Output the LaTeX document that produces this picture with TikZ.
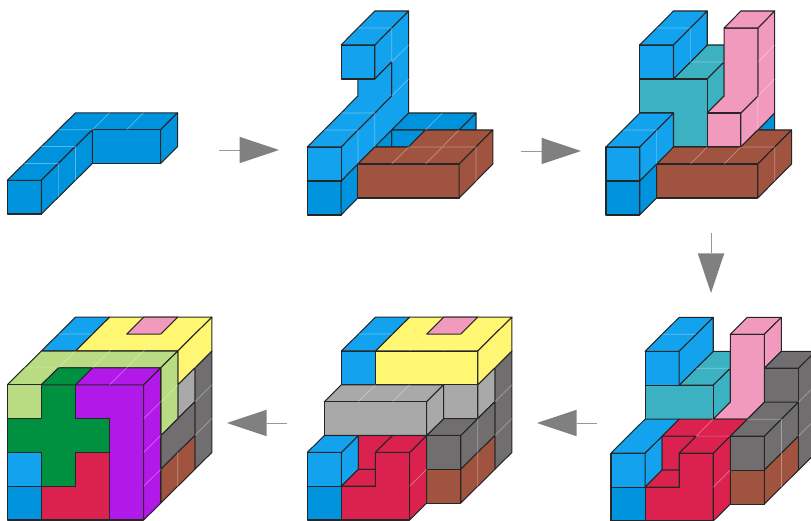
\documentclass[tikz,border=0pt]{standalone}
\usetikzlibrary{arrows.meta}
\definecolor{bd}{HTML}{0093DD}
\definecolor{bl}{HTML}{13A3EE}
\definecolor{brn}{HTML}{A05440}
\definecolor{tl}{HTML}{3BB1C1}
\definecolor{pk}{HTML}{F29ABE}
\definecolor{rd}{HTML}{DB224E}
\definecolor{gd}{HTML}{706E6E}
\definecolor{gl}{HTML}{A9A9A9}
\definecolor{yl}{HTML}{FFF672}
\definecolor{lg}{HTML}{B9DB82}
\definecolor{dg}{HTML}{009140}
\definecolor{pu}{HTML}{B219E9}
\tikzset{
 face/.style={draw=black!85,line width=1.05pt,line join=round},
 fbd/.style={face,fill=bd}, fbl/.style={face,fill=bl}, fbr/.style={face,fill=brn},
 ftl/.style={face,fill=tl}, fpk/.style={face,fill=pk}, frd/.style={face,fill=rd},
 fgd/.style={face,fill=gd}, fgl/.style={face,fill=gl}, fyl/.style={face,fill=yl},
 flg/.style={face,fill=lg}, fdg/.style={face,fill=dg}, fpu/.style={face,fill=pu},
 faint/.style={draw=white,opacity=.35,line width=.7pt},
 flow/.style={draw=black!40,line width=.7pt,-{Triangle[length=39.5pt,width=26.5pt,fill=black!50,line width=0pt]}}
}
\begin{document}
\begin{tikzpicture}[x=1pt,y=1pt]
\useasboundingbox (0,0) rectangle (811,521);
\clip (0,0) rectangle (811,521);
% panel 1
\begin{scope}[shift={(7.3pt,307pt)},x=17.03pt,y=16.85pt]
\draw[fbd] (0,2)--(2,2)--(5,5)--(9,5)--(10,6)--(4,6)--cycle;
\draw[fbd] (0,0)--(2,0)--(2,2)--(0,2)--cycle;
\draw[fbd] (2,0)--(5,3)--(5,5)--(2,2)--cycle;
\draw[fbd] (5,3)--(9,3)--(9,5)--(5,5)--cycle;
\draw[fbd] (9,3)--(10,4)--(10,6)--(9,5)--cycle;
\path[faint] (1,3)--(3,3) (2,4)--(4,4) (3,5)--(5,5) (5,5)--(6,6) (7,5)--(8,6) (3,1)--(3,3) (4,2)--(4,4);
\end{scope}
% panel 2
\begin{scope}[shift={(307.3pt,306pt)},x=16.87pt,y=17pt]
\draw[fbd] (5,5)--(9,5)--(10,6)--(6,6)--cycle;
\draw[fbd] (9,5)--(10,6)--(10,5)--cycle;
\draw[fbd] (5,4)--(6,4)--(7,5)--(5,5)--cycle;
\draw[fbd] (4,4)--(5,5)--(5,4)--cycle;
\draw[fbd] (0,0)--(2,0)--(2,2)--(0,2)--cycle;
\draw[fbd] (2,0)--(3,1)--(3,3)--(2,2)--cycle;
\draw[fbl] (2,2)--(2,4)--(5,7)--(5,9)--(4,8)--(4,10)--(6,12)--(6,6)--cycle;
\draw[fbl] (0,2)--(2,2)--(2,4)--(0,4)--cycle;
\draw[fbl] (0,4)--(2,4)--(5,7)--(5,9)--(4,8)--(3,8)--(3,7)--cycle;
\draw[fbl] (2,8)--(4,8)--(4,10)--(2,10)--cycle;
\draw[fbl] (2,10)--(4,10)--(6,12)--(4,12)--cycle;
\draw[fbr] (3,3)--(9,3)--(11,5)--(7,5)--(6,4)--(4,4)--cycle;
\draw[fbr] (3,1)--(9,1)--(9,3)--(3,3)--cycle;
\draw[fbr] (9,1)--(11,3)--(11,5)--(9,3)--cycle;
\path[faint] (3,11)--(5,11) (5,11)--(5,9) (6,10)--(5,9) (6,8)--(5,7) (1,5)--(3,5) (2,6)--(4,6) (4,6)--(4,4) (3,5)--(3,3) (6,4)--(10,4) (5,3)--(6,4) (7,3)--(9,5) (10,4)--(10,2) (8,6)--(7,5);
\end{scope}
% panel 3
\begin{scope}[shift={(606pt,306pt)},x=16.87pt,y=17pt]
\draw[fbd] (9,5)--(10,6)--(10,5)--cycle;
\draw[ftl] (4,8)--(6,10)--(7,10)--(7,9)--(6,8)--cycle;
\draw[ftl] (6,6)--(7,7)--(7,9)--(6,8)--cycle;
\draw[ftl] (2,8)--(6,8)--(6,4)--(4,4)--(4,6)--(2,6)--cycle;
\draw[fbl] (2,8)--(4,8)--(4,10)--(2,10)--cycle;
\draw[fbl] (2,10)--(4,10)--(6,12)--(4,12)--cycle;
\draw[fbl] (4,8)--(4,10)--(6,12)--(6,10)--cycle;
\draw[fpk] (8,4)--(10,6)--(10,12)--(9,11)--(9,7)--(8,6)--cycle;
\draw[fpk] (6,6)--(8,6)--(9,7)--(9,11)--(7,11)--(7,7)--cycle;
\draw[fpk] (7,11)--(9,11)--(10,12)--(8,12)--cycle;
\draw[fpk] (6,4)--(8,4)--(8,6)--(6,6)--cycle;
\draw[fbr] (3,3)--(9,3)--(11,5)--(9,5)--(8,4)--(4,4)--cycle;
\draw[fbr] (3,1)--(9,1)--(9,3)--(3,3)--cycle;
\draw[fbr] (9,1)--(11,3)--(11,5)--(9,3)--cycle;
\draw[fbd] (0,0)--(2,0)--(2,2)--(0,2)--cycle;
\draw[fbd] (2,0)--(3,1)--(3,3)--(2,2)--cycle;
\draw[fbl] (2,2)--(4,4)--(4,6)--(2,4)--cycle;
\draw[fbl] (0,2)--(2,2)--(2,4)--(0,4)--cycle;
\draw[fbl] (0,4)--(2,4)--(4,6)--(2,6)--cycle;
\path[faint] (3,11)--(5,11) (5,11)--(5,9) (5,9)--(7,9) (10,10)--(9,9) (10,8)--(9,7) (9,7)--(9,5) (1,5)--(3,5) (3,5)--(3,3) (5,3)--(6,4) (7,3)--(8,4) (8,4)--(10,4) (10,4)--(10,2);
\end{scope}
% panel 4
\begin{scope}[shift={(611pt,0pt)},x=17.04pt,y=16.97pt]
\draw[fpk] (7,11)--(9,11)--(10,12)--(8,12)--cycle;
\draw[fpk] (9,9)--(10,10)--(10,12)--(9,11)--cycle;
\draw[ftl] (4,8)--(6,10)--(7,10)--(7,9)--(6,8)--cycle;
\draw[ftl] (6,6)--(7,7)--(7,9)--(6,8)--cycle;
\draw[ftl] (2,6)--(6,6)--(6,8)--(2,8)--cycle;
\draw[fbl] (2,8)--(4,8)--(4,10)--(2,10)--cycle;
\draw[fbl] (2,10)--(4,10)--(6,12)--(4,12)--cycle;
\draw[fbl] (4,8)--(4,10)--(6,12)--(6,10)--cycle;
\draw[fgd] (11,3)--(12,4)--(12,10)--(11,9)--cycle;
\draw[fgd] (9,9)--(11,9)--(12,10)--(10,10)--cycle;
\draw[fgd] (9,7)--(9,9)--(11,9)--(11,7)--cycle;
\draw[fpk] (6,6)--(7,7)--(7,11)--(9,11)--(9,7)--(8,6)--cycle;
\draw[fgd] (7,5)--(9,5)--(11,7)--(9,7)--(8,6)--cycle;
\draw[fgd] (7,3)--(9,3)--(9,5)--(7,5)--cycle;
\draw[fgd] (9,3)--(11,5)--(11,7)--(9,5)--cycle;
\draw[fbr] (7,1)--(9,1)--(9,3)--(7,3)--cycle;
\draw[fbr] (9,1)--(11,3)--(11,5)--(9,3)--cycle;
\draw[fbd] (0,0)--(2,0)--(2,2)--(0,2)--cycle;
\draw[fbl] (0,2)--(2,2)--(2,4)--(0,4)--cycle;
\draw[fbl] (2,2)--(3,3)--(3,5)--(2,4)--cycle;
\draw[fbl] (0,4)--(2,4)--(4,6)--(2,6)--cycle;
\draw[frd] (3,3)--(4,3)--(4,4)--(5,5)--(3,5)--cycle;
\draw[frd] (2,2)--(3,3)--(4,3)--(4,2)--cycle;
\draw[frd] (2,0)--(6,0)--(6,4)--(4,4)--(4,2)--(2,2)--cycle;
\draw[frd] (6,0)--(7,1)--(7,5)--(6,4)--cycle;
\draw[frd] (4,4)--(5,5)--(3,5)--(4,6)--(8,6)--(7,5)--(6,4)--cycle;
\path[faint] (3,11)--(5,11) (5,9)--(7,9) (5,5)--(7,5) (5,5)--(6,6) (6,2)--(7,3) (8,6)--(10,6) (10,6)--(10,4) (10,4)--(10,2) (11,5)--(12,6) (11,7)--(12,8);
\end{scope}
% panel 5
\begin{scope}[shift={(307.3pt,1pt)},x=17.05pt,y=16.9pt]
\draw[fgd] (11,3)--(12,4)--(12,10)--(11,9)--cycle;
\draw[fgl] (8,6)--(10,6)--(10,8)--(8,8)--cycle;
\draw[fgl] (10,6)--(11,7)--(11,9)--(10,8)--cycle;
\draw[fbl] (2,8)--(4,8)--(4,10)--(2,10)--cycle;
\draw[fbl] (2,10)--(4,10)--(6,12)--(4,12)--cycle;
\draw[fyl] (4,8)--(10,8)--(10,10)--(4,10)--cycle;
\draw[fyl] (4,10)--(10,10)--(12,12)--(6,12)--cycle;
\draw[fyl] (10,8)--(10,10)--(12,12)--(12,10)--cycle;
\draw[fpk] (7,11)--(9,11)--(10,12)--(8,12)--cycle;
\draw[fgd] (7,5)--(8,6)--(10,6)--(11,7)--(9,5)--cycle;
\draw[fgd] (7,3)--(9,3)--(9,5)--(7,5)--cycle;
\draw[fgd] (9,3)--(11,5)--(11,7)--(9,5)--cycle;
\draw[fbr] (7,1)--(9,1)--(9,3)--(7,3)--cycle;
\draw[fbr] (9,1)--(11,3)--(11,5)--(9,3)--cycle;
\draw[fgl] (1,7)--(7,7)--(8,8)--(2,8)--cycle;
\draw[fgl] (1,5)--(7,5)--(7,7)--(1,7)--cycle;
\draw[fgl] (7,5)--(8,6)--(8,8)--(7,7)--cycle;
\draw[fbd] (0,0)--(2,0)--(2,2)--(0,2)--cycle;
\draw[fbl] (0,2)--(2,2)--(2,4)--(0,4)--cycle;
\draw[fbl] (2,2)--(3,3)--(3,5)--(2,4)--cycle;
\draw[fbl] (0,4)--(2,4)--(3,5)--(1,5)--cycle;
\draw[frd] (3,3)--(4,3)--(4,4)--(5,5)--(3,5)--cycle;
\draw[frd] (2,2)--(3,3)--(4,3)--(4,2)--cycle;
\draw[frd] (2,0)--(6,0)--(6,4)--(4,4)--(4,2)--(2,2)--cycle;
\draw[frd] (6,0)--(7,1)--(7,5)--(6,4)--cycle;
\draw[frd] (4,4)--(5,5)--(7,5)--(6,4)--cycle;
\path[faint] (3,11)--(5,11) (6,10)--(7,11) (8,10)--(9,11) (11,11)--(11,9) (3,7)--(4,8) (5,7)--(6,8) (6,2)--(7,3) (10,6)--(10,4) (10,4)--(10,2) (11,5)--(12,6) (11,7)--(12,8);
\end{scope}
% panel 6
\begin{scope}[shift={(7.3pt,1pt)},x=17.05pt,y=16.9pt]
\draw[fgd] (11,3)--(12,4)--(12,10)--(11,9)--cycle;
\draw[fgl] (10,6)--(11,7)--(11,9)--(10,8)--cycle;
\draw[fgd] (9,3)--(11,5)--(11,7)--(10,6)--(9,5)--cycle;
\draw[fbr] (9,1)--(11,3)--(11,5)--(9,3)--cycle;
\draw[fbl] (2,10)--(4,10)--(6,12)--(4,12)--cycle;
\draw[fyl] (4,10)--(10,10)--(12,12)--(6,12)--cycle;
\draw[fyl] (10,8)--(10,10)--(12,12)--(12,10)--cycle;
\draw[fpk] (7,11)--(9,11)--(10,12)--(8,12)--cycle;
\draw[flg] (0,8)--(2,10)--(10,10)--(9,9)--(3,9)--(2,8)--cycle;
\draw[flg] (9,9)--(10,10)--(10,6)--(9,5)--cycle;
\draw[flg] (0,6)--(2,6)--(2,8)--(0,8)--cycle;
\draw[fbd] (0,0)--(2,0)--(2,2)--(0,2)--cycle;
\draw[fbl] (0,2)--(2,2)--(2,4)--(0,4)--cycle;
\draw[frd] (2,0)--(6,0)--(6,4)--(4,4)--(4,2)--(2,2)--cycle;
\draw[fdg] (2,8)--(4,8)--(4,6)--(6,6)--(6,4)--(4,4)--(4,2)--(2,2)--(2,4)--(0,4)--(0,6)--(2,6)--cycle;
\draw[fdg] (2,8)--(3,9)--(5,9)--(4,8)--cycle;
\draw[fpu] (4,8)--(8,8)--(8,0)--(6,0)--(6,6)--(4,6)--cycle;
\draw[fpu] (4,8)--(5,9)--(9,9)--(8,8)--cycle;
\draw[fpu] (8,0)--(9,1)--(9,9)--(8,8)--cycle;
\path[faint] (1,9)--(3,9) (3,9)--(4,10) (5,9)--(6,10) (7,9)--(8,10) (6,10)--(7,11) (8,10)--(9,11) (3,11)--(5,11) (11,11)--(11,9) (6,8)--(7,9) (8,6)--(9,7) (8,4)--(9,5) (8,2)--(9,3) (9,7)--(10,8) (11,5)--(12,6) (11,7)--(12,8) (10,4)--(10,2);
\end{scope}
% arrows
\coordinate (a1s) at (219,371); \coordinate (a1e) at (279,371);
\coordinate (a2s) at (521,370); \coordinate (a2e) at (581,370);
\coordinate (a3s) at (711,288); \coordinate (a3e) at (711,228);
\coordinate (a4s) at (597,98); \coordinate (a4e) at (537,98);
\coordinate (a5s) at (287,98); \coordinate (a5e) at (227,98);
\draw[flow] (a1s)--(a1e);
\draw[flow] (a2s)--(a2e);
\draw[flow] (a3s)--(a3e);
\draw[flow] (a4s)--(a4e);
\draw[flow] (a5s)--(a5e);
\end{tikzpicture}
\end{document}
